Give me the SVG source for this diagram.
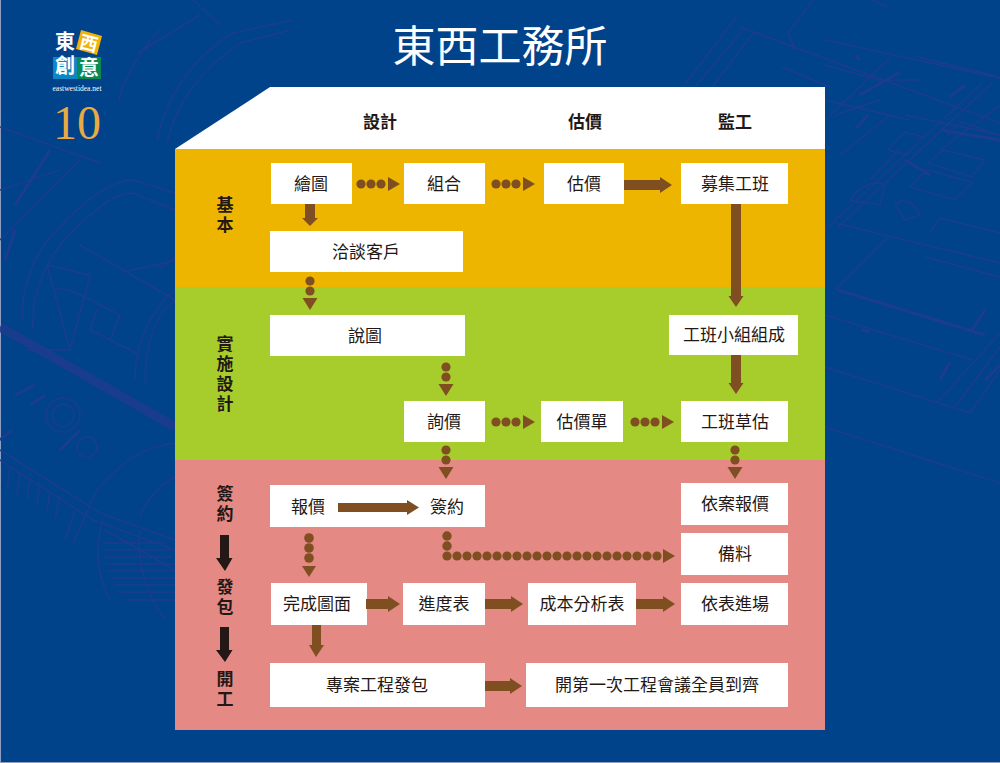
<svg xmlns="http://www.w3.org/2000/svg" xmlns:xlink="http://www.w3.org/1999/xlink" width="1000" height="763" viewBox="0 0 1000 763">
<style>
text{font-family:"Noto Sans CJK TC","Noto Sans CJK SC",sans-serif;text-anchor:middle}
.t{font-size:17px;fill:#231815}
.h{font-size:17px;font-weight:700;fill:#231815}
.v{font-size:17px;font-weight:700;fill:#231815;writing-mode:vertical-rl;letter-spacing:3px}
.bp{fill:none;stroke:#1c3c8d;stroke-width:1.500}
.bp2{fill:none;stroke:#1c3c8d;stroke-width:3}
.box{fill:#fff}
.c{fill:#7f4f21}
.k{fill:#231815}
</style>
<defs>
<g id="dotsR"><circle cx="0" cy="0" r="4.600"/><circle cx="10" cy="0" r="4.600"/><circle cx="20" cy="0" r="4.600"/><path d="M27 -7L39 0L27 7Z"/></g>
<g id="dotsD"><circle cx="0" cy="0" r="4.600"/><circle cx="0" cy="10" r="4.600"/><path d="M-7.500 17H7.500L0 29Z"/></g>
</defs>
<g id="background">
<rect width="1000" height="763" fill="#00438b"/>
<rect width="1" height="763" fill="#8f9fc4"/>
<rect y="762" width="1000" height="1" fill="#8f9fc4"/>
<path d="M0 327L175 427" stroke="#1c3c8d" stroke-width="9" fill="none" opacity=".9"/>
<path class="bp" d="M23 320C20 280 40 245 60 227C90 195 115 180 133 180L175 193M33 330C30 290 50 255 67 237C95 208 115 193 133 193L175 210M70 350L47 265M47 265L90 275L70 350M27 350L70 350M80 245L175 300M53 290C65 285 80 295 100 305L120 315L110 340L90 330L97 310M110 340L140 355M160 268L175 258M123 272C130 270 160 265 175 260"/>
<path class="bp" d="M0 450L100 513L175 540M0 460L93 520L175 550M175 443C160 445 145 450 133 457C115 470 105 480 97 490L73 543M175 477C160 485 145 500 140 517M0 127L100 163M0 190L60 170M80 160L0 240M175 290C150 310 135 345 135 380M175 300C155 315 145 345 145 385"/>
<path class="bp" d="M10 468L7 490M20 473L17 495M30 478L27 500M40 483L37 505M50 489L47 511M60 495L55 520M75 510L65 540M103 520C95 545 95 570 110 600M140 530C135 565 150 600 165 620M105 530L175 570M103 543H165M103 550H170M104 557H172M105 564H175M107 571H175M110 578H175M113 585H175M117 592H175M125 600H175"/>
<circle class="bp" cx="63" cy="415" r="17"/><circle class="bp" cx="63" cy="415" r="11"/><circle class="bp" cx="87" cy="447" r="10"/>
<path class="bp2" d="M15 395L35 385M30 405L45 395M60 450L80 430M0 440L12 430M15 205L50 150M5 260L15 230"/>
<path class="bp" d="M157 140C165 100 190 60 233 33L293 20M167 143C175 105 200 70 240 43L290 30M138 53L200 15M193 0L220 25M120 100C115 105 130 60 160 30"/>
<path class="bp" d="M740 27L1000 123M738 15L683 87M743 30L695 87M753 33L712 87M813 0L788 33L795 50M873 0L887 7M782 67L830 87"/>
<path class="bp" d="M825 40L1000 78M825 65L878 80L920 80M918 57L1000 77M992 83L838 227M982 83L828 227M1000 105L940 150M835 223L1000 263M825 315L972 360M825 367L970 413M1000 333L938 402M1000 347L955 407M1000 370L970 413M887 238L835 290M925 257L1000 277M825 427L1000 483M890 58L825 120M899 150L870 180M825 100L910 120M905 115L1000 135M840 155L890 115M835 115L880 100"/>
<path class="bp2" d="M838 290L985 335M860 95L900 72M940 130L1000 140M950 97L965 85"/>
<path class="bp" d="M888 150L905 132L923 137L907 155ZM928 163L943 150L985 160L972 177ZM910 187L927 170L972 182L955 200ZM947 135L962 122L1000 135M930 232L940 218L1000 233M850 200C860 185 875 180 885 185L880 205C870 200 860 205 850 200ZM895 205C905 195 915 205 920 215L905 220Z"/>
<path class="bp2" d="M862 330L870 332M985 310L972 330M940 380L950 362M985 380L1000 365M905 160L930 175M860 60L855 55M856 128L868 115"/>
</g>
<g id="logo">
<rect x="53" y="57" width="24" height="22" fill="#0b87c6"/>
<rect x="77" y="57" width="24" height="22" fill="#0a8a53"/>
<path d="M81 30L102 36L97 55L76 49Z" fill="#efb30c"/>
<text x="65" y="55" style="font-size:20px;font-weight:700;writing-mode:vertical-rl;letter-spacing:4px" fill="#fff">東創</text>
<text x="89" y="50" style="font-size:18px;font-weight:700" fill="#fff" transform="rotate(14 89 43)">西</text>
<text x="89" y="75" style="font-size:20px;font-weight:700" fill="#fff">意</text>
<text x="77" y="91" style="font-family:'Liberation Serif',serif;font-size:7.500px" fill="#fff">eastwestidea.net</text>
<text x="77" y="139" style="font-family:'Liberation Serif',serif;font-size:48px" fill="#e9a944">10</text>
</g>
<text id="title" x="500" y="62" style="font-size:43px;font-weight:400" fill="#fff">東西工務所</text>
<g id="panel">
<path d="M175 149L270 87H825V149Z" fill="#fff"/>
<rect x="175" y="149" width="650" height="138" fill="#eeb500"/>
<rect x="175" y="287" width="650" height="173" fill="#a7cd2c"/>
<rect x="175" y="460" width="650" height="270" fill="#e48984"/>
</g>
<g id="headers">
<text class="h" x="380" y="128">設計</text>
<text class="h" x="585" y="128">估價</text>
<text class="h" x="735" y="128">監工</text>
</g>
<g id="phases">
<text class="v" x="225" y="216">基本</text>
<text class="v" x="225" y="375">實施設計</text>
<text class="v" x="225" y="505">簽約</text>
<text class="v" x="225" y="598">發包</text>
<text class="v" x="225" y="690">開工</text>
<path class="k" d="M220 535H229V558H232.500L225 571L216 558H220Z"/>
<path class="k" d="M220 627H229V650H232.500L225 662L216 650H220Z"/>
</g>
<g id="n1"><rect class="box" x="271" y="163" width="81" height="41"/><text class="t" x="311" y="190">繪圖</text></g>
<g id="n2"><rect class="box" x="404" y="163" width="81" height="41"/><text class="t" x="444" y="190">組合</text></g>
<g id="n3"><rect class="box" x="544" y="163" width="80" height="41"/><text class="t" x="584" y="190">估價</text></g>
<g id="n4"><rect class="box" x="681" y="163" width="107" height="41"/><text class="t" x="735" y="190">募集工班</text></g>
<g id="n5"><rect class="box" x="270" y="231" width="193" height="41"/><text class="t" x="366" y="258">洽談客戶</text></g>
<g id="n6"><rect class="box" x="270" y="315" width="195" height="41"/><text class="t" x="365" y="342">說圖</text></g>
<g id="n7"><rect class="box" x="669" y="315" width="129" height="40"/><text class="t" x="734" y="341">工班小組組成</text></g>
<g id="n8"><rect class="box" x="404" y="401" width="81" height="41"/><text class="t" x="444" y="428">詢價</text></g>
<g id="n9"><rect class="box" x="541" y="401" width="82" height="41"/><text class="t" x="582" y="428">估價單</text></g>
<g id="n10"><rect class="box" x="681" y="401" width="107" height="41"/><text class="t" x="735" y="428">工班草估</text></g>
<g id="n11"><rect class="box" x="270" y="485" width="215" height="42"/><text class="t" x="308" y="513">報價</text><text class="t" x="447" y="513">簽約</text></g>
<g id="n12"><rect class="box" x="681" y="483" width="107" height="42"/><text class="t" x="735" y="510">依案報價</text></g>
<g id="n13"><rect class="box" x="681" y="533" width="107" height="42"/><text class="t" x="735" y="560">備料</text></g>
<g id="n14"><rect class="box" x="271" y="583" width="96" height="42"/><text class="t" x="317" y="610">完成圖面</text></g>
<g id="n15"><rect class="box" x="403" y="583" width="82" height="42"/><text class="t" x="444" y="610">進度表</text></g>
<g id="n16"><rect class="box" x="528" y="583" width="108" height="42"/><text class="t" x="582" y="610">成本分析表</text></g>
<g id="n17"><rect class="box" x="681" y="583" width="107" height="42"/><text class="t" x="735" y="610">依表進場</text></g>
<g id="n18"><rect class="box" x="270" y="663" width="215" height="44"/><text class="t" x="377" y="691">專案工程發包</text></g>
<g id="n19"><rect class="box" x="526" y="663" width="262" height="44"/><text class="t" x="657" y="691">開第一次工程會議全員到齊</text></g>
<g id="connectors">
<g class="c">
<use xlink:href="#dotsR" href="#dotsR" transform="translate(361 184)"/>
<use xlink:href="#dotsR" href="#dotsR" transform="translate(496 184)"/>
<use xlink:href="#dotsR" href="#dotsR" transform="translate(496 422)"/>
<use xlink:href="#dotsR" href="#dotsR" transform="translate(635 422)"/>
<use xlink:href="#dotsD" href="#dotsD" transform="translate(310 281)"/>
<use xlink:href="#dotsD" href="#dotsD" transform="translate(446 367)"/>
<use xlink:href="#dotsD" href="#dotsD" transform="translate(446 450)"/>
<use xlink:href="#dotsD" href="#dotsD" transform="translate(735 450)"/>
<circle cx="309" cy="538" r="4.800"/><circle cx="309" cy="548" r="4.800"/><circle cx="309" cy="558" r="4.800"/>
<path d="M302 566H316L309 577Z"/>
<path d="M305 204H315V218H318L310 226L302 218H305Z"/>
<path d="M624 180H660V177L672 185L660 193V190H624Z"/>
<path d="M731 204H741V296H743.500L736 307L728.500 296H731Z"/>
<path d="M731 355H741V383H743.500L736 394L728.500 383H731Z"/>
<path d="M338 503H407V500L419 507.500L407 515V512H338Z"/>
<path d="M366 599H388V596L400 604L388 612V609H366Z"/>
<path d="M485 599H511V596L523 604L511 612V609H485Z"/>
<path d="M636 599H663V596L675 604L663 612V609H636Z"/>
<path d="M312 625H321V645H324L316 657L309 645H312Z"/>
<path d="M485 681H510V678L522 686L510 694V691H485Z"/>
<path d="M663 549V563L675 556Z"/>
<circle cx="447" cy="536" r="4.700"/><circle cx="447" cy="546" r="4.700"/>
<circle cx="447" cy="556" r="4.600"/><circle cx="457" cy="556" r="4.600"/><circle cx="467" cy="556" r="4.600"/><circle cx="477" cy="556" r="4.600"/><circle cx="487" cy="556" r="4.600"/><circle cx="497" cy="556" r="4.600"/><circle cx="507" cy="556" r="4.600"/><circle cx="517" cy="556" r="4.600"/><circle cx="527" cy="556" r="4.600"/><circle cx="537" cy="556" r="4.600"/><circle cx="547" cy="556" r="4.600"/><circle cx="557" cy="556" r="4.600"/><circle cx="567" cy="556" r="4.600"/><circle cx="577" cy="556" r="4.600"/><circle cx="587" cy="556" r="4.600"/><circle cx="597" cy="556" r="4.600"/><circle cx="607" cy="556" r="4.600"/><circle cx="617" cy="556" r="4.600"/><circle cx="627" cy="556" r="4.600"/><circle cx="637" cy="556" r="4.600"/><circle cx="647" cy="556" r="4.600"/><circle cx="657" cy="556" r="4.600"/>
</g>
</g>
</svg>
